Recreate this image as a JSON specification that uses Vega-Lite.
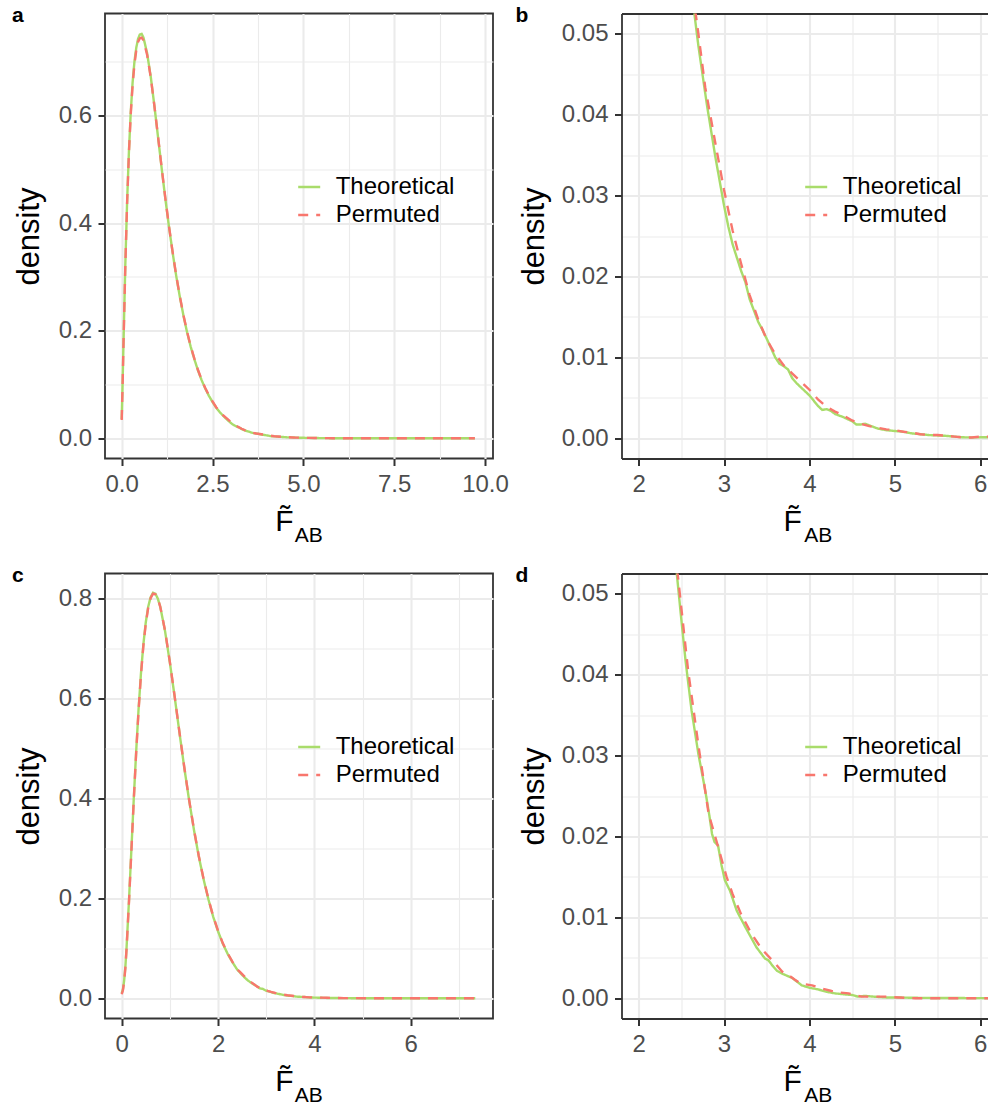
{
"$schema": "https://vega.github.io/schema/vega-lite/v6.json",
"background": "white",
"padding": {"left": 11, "top": 3.5, "right": 0, "bottom": 0},
"datasets": {
"top": [
{"F":0,"density":0.036,"series":"Theoretical"},{"F":0.025,"density":0.105,"series":"Theoretical"},{"F":0.05,"density":0.18,"series":"Theoretical"},{"F":0.1,"density":0.325,"series":"Theoretical"},{"F":0.15,"density":0.443,"series":"Theoretical"},{"F":0.2,"density":0.536,"series":"Theoretical"},{"F":0.25,"density":0.608,"series":"Theoretical"},{"F":0.3,"density":0.662,"series":"Theoretical"},{"F":0.35,"density":0.7,"series":"Theoretical"},{"F":0.4,"density":0.726,"series":"Theoretical"},{"F":0.45,"density":0.743,"series":"Theoretical"},{"F":0.5,"density":0.751,"series":"Theoretical"},{"F":0.55,"density":0.752,"series":"Theoretical"},{"F":0.6,"density":0.745,"series":"Theoretical"},{"F":0.7,"density":0.716,"series":"Theoretical"},{"F":0.8,"density":0.672,"series":"Theoretical"},{"F":0.9,"density":0.618,"series":"Theoretical"},{"F":1.0,"density":0.56,"series":"Theoretical"},{"F":1.1,"density":0.502,"series":"Theoretical"},{"F":1.2,"density":0.446,"series":"Theoretical"},{"F":1.3,"density":0.394,"series":"Theoretical"},{"F":1.4,"density":0.346,"series":"Theoretical"},{"F":1.5,"density":0.302,"series":"Theoretical"},{"F":1.6,"density":0.263,"series":"Theoretical"},{"F":1.7,"density":0.228,"series":"Theoretical"},{"F":1.8,"density":0.197,"series":"Theoretical"},{"F":1.9,"density":0.17,"series":"Theoretical"},{"F":2.0,"density":0.147,"series":"Theoretical"},{"F":2.1,"density":0.126,"series":"Theoretical"},{"F":2.2,"density":0.108,"series":"Theoretical"},{"F":2.3,"density":0.0925,"series":"Theoretical"},{"F":2.4,"density":0.079,"series":"Theoretical"},{"F":2.5,"density":0.0674,"series":"Theoretical"},{"F":2.6,"density":0.057,"series":"Theoretical"},{"F":2.7,"density":0.0485,"series":"Theoretical"},{"F":2.8,"density":0.0412,"series":"Theoretical"},{"F":2.9,"density":0.0347,"series":"Theoretical"},{"F":3.0,"density":0.0288,"series":"Theoretical"},{"F":3.05,"density":0.0262,"series":"Theoretical"},{"F":3.1,"density":0.024,"series":"Theoretical"},{"F":3.2,"density":0.0207,"series":"Theoretical"},{"F":3.25,"density":0.0193,"series":"Theoretical"},{"F":3.3,"density":0.0172,"series":"Theoretical"},{"F":3.4,"density":0.0144,"series":"Theoretical"},{"F":3.45,"density":0.0134,"series":"Theoretical"},{"F":3.5,"density":0.0123,"series":"Theoretical"},{"F":3.6,"density":0.01,"series":"Theoretical"},{"F":3.65,"density":0.0092,"series":"Theoretical"},{"F":3.7,"density":0.0089,"series":"Theoretical"},{"F":3.75,"density":0.0085,"series":"Theoretical"},{"F":3.8,"density":0.0074,"series":"Theoretical"},{"F":3.85,"density":0.0068,"series":"Theoretical"},{"F":3.9,"density":0.0063,"series":"Theoretical"},{"F":4.0,"density":0.0053,"series":"Theoretical"},{"F":4.1,"density":0.004,"series":"Theoretical"},{"F":4.15,"density":0.0035,"series":"Theoretical"},{"F":4.2,"density":0.0036,"series":"Theoretical"},{"F":4.25,"density":0.0034,"series":"Theoretical"},{"F":4.3,"density":0.003,"series":"Theoretical"},{"F":4.4,"density":0.0026,"series":"Theoretical"},{"F":4.5,"density":0.0021,"series":"Theoretical"},{"F":4.55,"density":0.0017,"series":"Theoretical"},{"F":4.6,"density":0.0017,"series":"Theoretical"},{"F":4.65,"density":0.0018,"series":"Theoretical"},{"F":4.7,"density":0.0016,"series":"Theoretical"},{"F":4.8,"density":0.0012,"series":"Theoretical"},{"F":4.9,"density":0.001,"series":"Theoretical"},{"F":5.0,"density":0.0009,"series":"Theoretical"},{"F":5.1,"density":0.0008,"series":"Theoretical"},{"F":5.2,"density":0.0006,"series":"Theoretical"},{"F":5.3,"density":0.0005,"series":"Theoretical"},{"F":5.4,"density":0.0004,"series":"Theoretical"},{"F":5.5,"density":0.00035,"series":"Theoretical"},{"F":5.6,"density":0.0003,"series":"Theoretical"},{"F":5.7,"density":0.0002,"series":"Theoretical"},{"F":5.8,"density":0.00012,"series":"Theoretical"},{"F":5.9,"density":0.0001,"series":"Theoretical"},{"F":6.0,"density":0.00012,"series":"Theoretical"},{"F":6.1,"density":0.00012,"series":"Theoretical"},{"F":6.2,"density":0.0001,"series":"Theoretical"},{"F":6.6,"density":0.00006,"series":"Theoretical"},{"F":7.0,"density":0.00003,"series":"Theoretical"},{"F":7.5,"density":0.00002,"series":"Theoretical"},{"F":8.0,"density":0.00001,"series":"Theoretical"},{"F":8.5,"density":0.00001,"series":"Theoretical"},{"F":9.0,"density":0,"series":"Theoretical"},{"F":9.72,"density":0,"series":"Theoretical"},
{"F":0,"density":0.034,"series":"Permuted"},{"F":0.025,"density":0.1,"series":"Permuted"},{"F":0.05,"density":0.178,"series":"Permuted"},{"F":0.1,"density":0.322,"series":"Permuted"},{"F":0.15,"density":0.44,"series":"Permuted"},{"F":0.2,"density":0.533,"series":"Permuted"},{"F":0.25,"density":0.604,"series":"Permuted"},{"F":0.3,"density":0.657,"series":"Permuted"},{"F":0.35,"density":0.695,"series":"Permuted"},{"F":0.4,"density":0.721,"series":"Permuted"},{"F":0.45,"density":0.737,"series":"Permuted"},{"F":0.5,"density":0.744,"series":"Permuted"},{"F":0.55,"density":0.745,"series":"Permuted"},{"F":0.6,"density":0.74,"series":"Permuted"},{"F":0.7,"density":0.713,"series":"Permuted"},{"F":0.8,"density":0.671,"series":"Permuted"},{"F":0.9,"density":0.618,"series":"Permuted"},{"F":1.0,"density":0.561,"series":"Permuted"},{"F":1.1,"density":0.503,"series":"Permuted"},{"F":1.2,"density":0.447,"series":"Permuted"},{"F":1.3,"density":0.395,"series":"Permuted"},{"F":1.4,"density":0.347,"series":"Permuted"},{"F":1.5,"density":0.303,"series":"Permuted"},{"F":1.6,"density":0.264,"series":"Permuted"},{"F":1.7,"density":0.229,"series":"Permuted"},{"F":1.8,"density":0.198,"series":"Permuted"},{"F":1.9,"density":0.171,"series":"Permuted"},{"F":2.0,"density":0.148,"series":"Permuted"},{"F":2.1,"density":0.127,"series":"Permuted"},{"F":2.2,"density":0.109,"series":"Permuted"},{"F":2.3,"density":0.0935,"series":"Permuted"},{"F":2.4,"density":0.08,"series":"Permuted"},{"F":2.5,"density":0.0685,"series":"Permuted"},{"F":2.6,"density":0.0578,"series":"Permuted"},{"F":2.7,"density":0.05,"series":"Permuted"},{"F":2.78,"density":0.0434,"series":"Permuted"},{"F":2.9,"density":0.0364,"series":"Permuted"},{"F":3.0,"density":0.0307,"series":"Permuted"},{"F":3.1,"density":0.0257,"series":"Permuted"},{"F":3.2,"density":0.0216,"series":"Permuted"},{"F":3.3,"density":0.0177,"series":"Permuted"},{"F":3.4,"density":0.0147,"series":"Permuted"},{"F":3.5,"density":0.0122,"series":"Permuted"},{"F":3.6,"density":0.0104,"series":"Permuted"},{"F":3.7,"density":0.009,"series":"Permuted"},{"F":3.8,"density":0.008,"series":"Permuted"},{"F":3.9,"density":0.007,"series":"Permuted"},{"F":4.0,"density":0.006,"series":"Permuted"},{"F":4.1,"density":0.0048,"series":"Permuted"},{"F":4.2,"density":0.0039,"series":"Permuted"},{"F":4.3,"density":0.0033,"series":"Permuted"},{"F":4.4,"density":0.0028,"series":"Permuted"},{"F":4.5,"density":0.0022,"series":"Permuted"},{"F":4.6,"density":0.0018,"series":"Permuted"},{"F":4.7,"density":0.0015,"series":"Permuted"},{"F":4.8,"density":0.0013,"series":"Permuted"},{"F":4.9,"density":0.0011,"series":"Permuted"},{"F":5.0,"density":0.001,"series":"Permuted"},{"F":5.1,"density":0.0008,"series":"Permuted"},{"F":5.2,"density":0.0007,"series":"Permuted"},{"F":5.3,"density":0.0005,"series":"Permuted"},{"F":5.4,"density":0.0004,"series":"Permuted"},{"F":5.5,"density":0.0004,"series":"Permuted"},{"F":5.6,"density":0.0003,"series":"Permuted"},{"F":5.7,"density":0.0002,"series":"Permuted"},{"F":5.8,"density":0.0001,"series":"Permuted"},{"F":5.9,"density":0.0001,"series":"Permuted"},{"F":6.0,"density":0.0002,"series":"Permuted"},{"F":6.1,"density":0.0002,"series":"Permuted"},{"F":6.2,"density":0.00015,"series":"Permuted"},{"F":6.6,"density":0.00006,"series":"Permuted"},{"F":7.0,"density":0.00003,"series":"Permuted"},{"F":7.5,"density":0.00002,"series":"Permuted"},{"F":8.0,"density":0.00001,"series":"Permuted"},{"F":8.5,"density":0.00001,"series":"Permuted"},{"F":9.0,"density":0,"series":"Permuted"},{"F":9.72,"density":0,"series":"Permuted"}
],
"bottom": [
{"F":0,"density":0.01,"series":"Theoretical"},{"F":0.025,"density":0.018,"series":"Theoretical"},{"F":0.05,"density":0.035,"series":"Theoretical"},{"F":0.075,"density":0.062,"series":"Theoretical"},{"F":0.1,"density":0.1,"series":"Theoretical"},{"F":0.15,"density":0.194,"series":"Theoretical"},{"F":0.2,"density":0.296,"series":"Theoretical"},{"F":0.25,"density":0.399,"series":"Theoretical"},{"F":0.3,"density":0.494,"series":"Theoretical"},{"F":0.35,"density":0.579,"series":"Theoretical"},{"F":0.4,"density":0.651,"series":"Theoretical"},{"F":0.45,"density":0.709,"series":"Theoretical"},{"F":0.5,"density":0.753,"series":"Theoretical"},{"F":0.55,"density":0.784,"series":"Theoretical"},{"F":0.6,"density":0.803,"series":"Theoretical"},{"F":0.65,"density":0.812,"series":"Theoretical"},{"F":0.7,"density":0.81,"series":"Theoretical"},{"F":0.75,"density":0.8,"series":"Theoretical"},{"F":0.8,"density":0.784,"series":"Theoretical"},{"F":0.9,"density":0.735,"series":"Theoretical"},{"F":1.0,"density":0.672,"series":"Theoretical"},{"F":1.1,"density":0.603,"series":"Theoretical"},{"F":1.2,"density":0.531,"series":"Theoretical"},{"F":1.3,"density":0.461,"series":"Theoretical"},{"F":1.4,"density":0.396,"series":"Theoretical"},{"F":1.5,"density":0.337,"series":"Theoretical"},{"F":1.6,"density":0.284,"series":"Theoretical"},{"F":1.7,"density":0.238,"series":"Theoretical"},{"F":1.8,"density":0.198,"series":"Theoretical"},{"F":1.9,"density":0.163,"series":"Theoretical"},{"F":2.0,"density":0.134,"series":"Theoretical"},{"F":2.1,"density":0.109,"series":"Theoretical"},{"F":2.2,"density":0.0889,"series":"Theoretical"},{"F":2.3,"density":0.072,"series":"Theoretical"},{"F":2.4,"density":0.057,"series":"Theoretical"},{"F":2.45,"density":0.0522,"series":"Theoretical"},{"F":2.49,"density":0.0479,"series":"Theoretical"},{"F":2.55,"density":0.0417,"series":"Theoretical"},{"F":2.62,"density":0.0356,"series":"Theoretical"},{"F":2.7,"density":0.0302,"series":"Theoretical"},{"F":2.78,"density":0.0257,"series":"Theoretical"},{"F":2.83,"density":0.0225,"series":"Theoretical"},{"F":2.86,"density":0.0203,"series":"Theoretical"},{"F":2.89,"density":0.0193,"series":"Theoretical"},{"F":2.93,"density":0.0189,"series":"Theoretical"},{"F":2.97,"density":0.0165,"series":"Theoretical"},{"F":3.01,"density":0.0146,"series":"Theoretical"},{"F":3.07,"density":0.0133,"series":"Theoretical"},{"F":3.15,"density":0.0108,"series":"Theoretical"},{"F":3.25,"density":0.0088,"series":"Theoretical"},{"F":3.38,"density":0.0063,"series":"Theoretical"},{"F":3.48,"density":0.0049,"series":"Theoretical"},{"F":3.52,"density":0.0047,"series":"Theoretical"},{"F":3.57,"density":0.004,"series":"Theoretical"},{"F":3.62,"density":0.0034,"series":"Theoretical"},{"F":3.69,"density":0.003,"series":"Theoretical"},{"F":3.8,"density":0.0025,"series":"Theoretical"},{"F":3.91,"density":0.0016,"series":"Theoretical"},{"F":4.0,"density":0.0013,"series":"Theoretical"},{"F":4.1,"density":0.0011,"series":"Theoretical"},{"F":4.2,"density":0.0008,"series":"Theoretical"},{"F":4.3,"density":0.0006,"series":"Theoretical"},{"F":4.4,"density":0.0005,"series":"Theoretical"},{"F":4.5,"density":0.0004,"series":"Theoretical"},{"F":4.57,"density":0.0002,"series":"Theoretical"},{"F":4.65,"density":0.0003,"series":"Theoretical"},{"F":4.75,"density":0.0002,"series":"Theoretical"},{"F":4.9,"density":0.0001,"series":"Theoretical"},{"F":5.0,"density":0.0001,"series":"Theoretical"},{"F":5.3,"density":0.00005,"series":"Theoretical"},{"F":5.6,"density":0.00003,"series":"Theoretical"},{"F":6.0,"density":0.00002,"series":"Theoretical"},{"F":6.2,"density":0.00001,"series":"Theoretical"},{"F":6.6,"density":0,"series":"Theoretical"},{"F":7.0,"density":0,"series":"Theoretical"},{"F":7.34,"density":0,"series":"Theoretical"},
{"F":0,"density":0.008,"series":"Permuted"},{"F":0.025,"density":0.016,"series":"Permuted"},{"F":0.05,"density":0.033,"series":"Permuted"},{"F":0.075,"density":0.06,"series":"Permuted"},{"F":0.1,"density":0.098,"series":"Permuted"},{"F":0.15,"density":0.191,"series":"Permuted"},{"F":0.2,"density":0.293,"series":"Permuted"},{"F":0.25,"density":0.396,"series":"Permuted"},{"F":0.3,"density":0.491,"series":"Permuted"},{"F":0.35,"density":0.576,"series":"Permuted"},{"F":0.4,"density":0.648,"series":"Permuted"},{"F":0.45,"density":0.706,"series":"Permuted"},{"F":0.5,"density":0.75,"series":"Permuted"},{"F":0.55,"density":0.782,"series":"Permuted"},{"F":0.6,"density":0.801,"series":"Permuted"},{"F":0.65,"density":0.81,"series":"Permuted"},{"F":0.7,"density":0.809,"series":"Permuted"},{"F":0.75,"density":0.8,"series":"Permuted"},{"F":0.8,"density":0.784,"series":"Permuted"},{"F":0.9,"density":0.736,"series":"Permuted"},{"F":1.0,"density":0.673,"series":"Permuted"},{"F":1.1,"density":0.604,"series":"Permuted"},{"F":1.2,"density":0.532,"series":"Permuted"},{"F":1.3,"density":0.462,"series":"Permuted"},{"F":1.4,"density":0.397,"series":"Permuted"},{"F":1.5,"density":0.338,"series":"Permuted"},{"F":1.6,"density":0.285,"series":"Permuted"},{"F":1.7,"density":0.239,"series":"Permuted"},{"F":1.8,"density":0.199,"series":"Permuted"},{"F":1.9,"density":0.164,"series":"Permuted"},{"F":2.0,"density":0.135,"series":"Permuted"},{"F":2.1,"density":0.11,"series":"Permuted"},{"F":2.2,"density":0.0898,"series":"Permuted"},{"F":2.3,"density":0.0728,"series":"Permuted"},{"F":2.4,"density":0.058,"series":"Permuted"},{"F":2.465,"density":0.0517,"series":"Permuted"},{"F":2.58,"density":0.0405,"series":"Permuted"},{"F":2.7,"density":0.0313,"series":"Permuted"},{"F":2.82,"density":0.0228,"series":"Permuted"},{"F":2.91,"density":0.0195,"series":"Permuted"},{"F":3.03,"density":0.015,"series":"Permuted"},{"F":3.1,"density":0.0129,"series":"Permuted"},{"F":3.2,"density":0.0104,"series":"Permuted"},{"F":3.32,"density":0.008,"series":"Permuted"},{"F":3.44,"density":0.0061,"series":"Permuted"},{"F":3.6,"density":0.0043,"series":"Permuted"},{"F":3.68,"density":0.0033,"series":"Permuted"},{"F":3.79,"density":0.0026,"series":"Permuted"},{"F":3.83,"density":0.0023,"series":"Permuted"},{"F":3.9,"density":0.0018,"series":"Permuted"},{"F":4.03,"density":0.0016,"series":"Permuted"},{"F":4.15,"density":0.0012,"series":"Permuted"},{"F":4.26,"density":0.0009,"series":"Permuted"},{"F":4.36,"density":0.0007,"series":"Permuted"},{"F":4.46,"density":0.0006,"series":"Permuted"},{"F":4.53,"density":0.0004,"series":"Permuted"},{"F":4.61,"density":0.0002,"series":"Permuted"},{"F":4.75,"density":0.0002,"series":"Permuted"},{"F":4.89,"density":0.0002,"series":"Permuted"},{"F":5.05,"density":0.0001,"series":"Permuted"},{"F":5.24,"density":0,"series":"Permuted"},{"F":5.6,"density":0,"series":"Permuted"},{"F":6.2,"density":0,"series":"Permuted"},{"F":7.34,"density":0,"series":"Permuted"}
]
},
"columns": 2,
"spacing": {"row": 115, "column": 128.5},
"bounds": "flush",
"resolve": {"scale": {"color": "independent", "strokeDash": "independent"}, "legend": {"color": "independent", "strokeDash": "independent"}},
"concat": [
{
"title": {"text": "a", "anchor": "start", "frame": "group", "dx": -93, "dy": 29, "offset": 0, "baseline": "alphabetic"},
"width": 388, "height": 445,
"data": {"name": "top"},
"encoding": {
"y": {"field": "density", "type": "quantitative", "scale": {"domain": [-0.0376, 0.79], "nice": false, "zero": false},
"axis": {"values": [0, 0.1, 0.2, 0.3, 0.4, 0.5, 0.6, 0.7], "labelExpr": "round(datum.value*10) % 2 == 0 ? format(datum.value, '.1f') : ''",
"gridWidth": {"condition": {"test": "round(datum.value*10) % 2 == 0", "value": 2.1}, "value": 1.1},
"tickOpacity": {"condition": {"test": "round(datum.value*10) % 2 == 0", "value": 1}, "value": 0},
"domain": false, "labelPadding": 6.5, "title": "density", "titleFontSize": 31, "titleX": -66.7, "titleY": 222.5, "titleAngle": -90, "titleAlign": "center", "titleBaseline": "alphabetic"}},
"color": {"field": "series", "type": "nominal", "scale": {"domain": ["Theoretical", "Permuted"], "range": ["#A9DC6B", "#F8766D"]}, "legend": {"title": null, "legendX": 191.7, "legendY": 161}},
"strokeDash": {"field": "series", "type": "nominal", "scale": {"domain": ["Theoretical", "Permuted"], "range": [[1, 0], [10, 8]]}, "legend": {"title": null, "legendX": 191.7, "legendY": 161}}
},
"layer": [
{"transform": [{"filter": "datum.series === 'Theoretical'"}], "mark": {"type": "line", "clip": true, "strokeWidth": 2.4},
"encoding": {"x": {"field": "F", "type": "quantitative", "scale": {"domain": [-0.46, 10.22], "nice": false, "zero": false},
"axis": {"orient": "bottom", "values": [0, 1.25, 2.5, 3.75, 5, 6.25, 7.5, 8.75, 10], "labelExpr": "datum.value % 2.5 == 0 ? format(datum.value, '.1f') : ''",
"gridWidth": {"condition": {"test": "datum.value % 2.5 == 0", "value": 2.1}, "value": 1.1},
"tickOpacity": {"condition": {"test": "datum.value % 2.5 == 0", "value": 1}, "value": 0},
"domain": false, "labelBaseline": "alphabetic", "labelPadding": 26, "title": "F\u0303", "titleX": 169.7, "titleY": 72, "titleAlign": "left", "titleBaseline": "alphabetic"}}}},
{"transform": [{"filter": "datum.series === 'Permuted'"}], "mark": {"type": "line", "clip": true, "strokeWidth": 2.4},
"encoding": {"x": {"field": "F", "type": "quantitative", "scale": {"domain": [-0.46, 10.22], "nice": false, "zero": false},
"axis": {"orient": "top", "labels": false, "ticks": false, "grid": false, "domain": false, "title": "AB", "titleFontSize": 21, "titleX": 189.3, "titleY": 528, "titleAlign": "left", "titleBaseline": "alphabetic"}}}}
],
"resolve": {"axis": {"x": "independent"}}
},
{
"title": {"text": "b", "anchor": "start", "frame": "group", "dx": -106, "dy": 29, "offset": 0, "baseline": "alphabetic"},
"width": 367, "height": 445,
"view": {"stroke": null},
"data": {"name": "top"},
"encoding": {
"y": {"field": "density", "type": "quantitative", "scale": {"domain": [-0.0025, 0.0525], "nice": false, "zero": false},
"axis": {"values": [0, 0.005, 0.01, 0.015, 0.02, 0.025, 0.03, 0.035, 0.04, 0.045, 0.05], "labelExpr": "round(datum.value*1000) % 10 == 0 ? format(datum.value, '.2f') : ''",
"gridWidth": {"condition": {"test": "round(datum.value*1000) % 10 == 0", "value": 2.1}, "value": 1.1},
"tickOpacity": {"condition": {"test": "round(datum.value*1000) % 10 == 0", "value": 1}, "value": 0},
"domain": true, "labelPadding": 6.5, "title": "density", "titleFontSize": 31, "titleX": -78.2, "titleY": 222.5, "titleAngle": -90, "titleAlign": "center", "titleBaseline": "alphabetic"}},
"color": {"field": "series", "type": "nominal", "scale": {"domain": ["Theoretical", "Permuted"], "range": ["#A9DC6B", "#F8766D"]}, "legend": {"title": null, "legendX": 182.2, "legendY": 161}},
"strokeDash": {"field": "series", "type": "nominal", "scale": {"domain": ["Theoretical", "Permuted"], "range": [[1, 0], [10, 8]]}, "legend": {"title": null, "legendX": 182.2, "legendY": 161}}
},
"layer": [
{"transform": [{"filter": "datum.series === 'Theoretical'"}], "mark": {"type": "line", "clip": true, "strokeWidth": 2.4},
"encoding": {"x": {"field": "F", "type": "quantitative", "scale": {"domain": [1.8, 6.0964], "nice": false, "zero": false},
"axis": {"orient": "bottom", "values": [2, 2.5, 3, 3.5, 4, 4.5, 5, 5.5, 6], "labelExpr": "datum.value % 1 == 0 ? format(datum.value, 'd') : ''",
"gridWidth": {"condition": {"test": "datum.value % 1 == 0", "value": 2.1}, "value": 1.1},
"tickOpacity": {"condition": {"test": "datum.value % 1 == 0", "value": 1}, "value": 0},
"domain": true, "labelBaseline": "alphabetic", "labelPadding": 26, "title": "F\u0303", "titleX": 161.5, "titleY": 72, "titleAlign": "left", "titleBaseline": "alphabetic"}}}},
{"transform": [{"filter": "datum.series === 'Permuted'"}], "mark": {"type": "line", "clip": true, "strokeWidth": 2.4},
"encoding": {"x": {"field": "F", "type": "quantitative", "scale": {"domain": [1.8, 6.0964], "nice": false, "zero": false},
"axis": {"orient": "top", "labels": false, "ticks": false, "grid": false, "domain": true, "title": "AB", "titleFontSize": 21, "titleX": 182.2, "titleY": 528, "titleAlign": "left", "titleBaseline": "alphabetic"}}}}
],
"resolve": {"axis": {"x": "independent"}}
},
{
"title": {"text": "c", "anchor": "start", "frame": "group", "dx": -93, "dy": 29, "offset": 0, "baseline": "alphabetic"},
"width": 388, "height": 445,
"data": {"name": "bottom"},
"encoding": {
"y": {"field": "density", "type": "quantitative", "scale": {"domain": [-0.0405, 0.8505], "nice": false, "zero": false},
"axis": {"values": [0, 0.1, 0.2, 0.3, 0.4, 0.5, 0.6, 0.7, 0.8], "labelExpr": "round(datum.value*10) % 2 == 0 ? format(datum.value, '.1f') : ''",
"gridWidth": {"condition": {"test": "round(datum.value*10) % 2 == 0", "value": 2.1}, "value": 1.1},
"tickOpacity": {"condition": {"test": "round(datum.value*10) % 2 == 0", "value": 1}, "value": 0},
"domain": false, "labelPadding": 6.5, "title": "density", "titleFontSize": 31, "titleX": -66.7, "titleY": 222.5, "titleAngle": -90, "titleAlign": "center", "titleBaseline": "alphabetic"}},
"color": {"field": "series", "type": "nominal", "scale": {"domain": ["Theoretical", "Permuted"], "range": ["#A9DC6B", "#F8766D"]}, "legend": {"title": null, "legendX": 191.7, "legendY": 161}},
"strokeDash": {"field": "series", "type": "nominal", "scale": {"domain": ["Theoretical", "Permuted"], "range": [[1, 0], [10, 8]]}, "legend": {"title": null, "legendX": 191.7, "legendY": 161}}
},
"layer": [
{"transform": [{"filter": "datum.series === 'Theoretical'"}], "mark": {"type": "line", "clip": true, "strokeWidth": 2.4},
"encoding": {"x": {"field": "F", "type": "quantitative", "scale": {"domain": [-0.347, 7.708], "nice": false, "zero": false},
"axis": {"orient": "bottom", "values": [0, 1, 2, 3, 4, 5, 6, 7], "labelExpr": "datum.value % 2 == 0 ? format(datum.value, 'd') : ''",
"gridWidth": {"condition": {"test": "datum.value % 2 == 0", "value": 2.1}, "value": 1.1},
"tickOpacity": {"condition": {"test": "datum.value % 2 == 0", "value": 1}, "value": 0},
"domain": false, "labelBaseline": "alphabetic", "labelPadding": 26, "title": "F\u0303", "titleX": 169.7, "titleY": 72, "titleAlign": "left", "titleBaseline": "alphabetic"}}}},
{"transform": [{"filter": "datum.series === 'Permuted'"}], "mark": {"type": "line", "clip": true, "strokeWidth": 2.4},
"encoding": {"x": {"field": "F", "type": "quantitative", "scale": {"domain": [-0.347, 7.708], "nice": false, "zero": false},
"axis": {"orient": "top", "labels": false, "ticks": false, "grid": false, "domain": false, "title": "AB", "titleFontSize": 21, "titleX": 189.3, "titleY": 528, "titleAlign": "left", "titleBaseline": "alphabetic"}}}}
],
"resolve": {"axis": {"x": "independent"}}
},
{
"title": {"text": "d", "anchor": "start", "frame": "group", "dx": -106, "dy": 29, "offset": 0, "baseline": "alphabetic"},
"width": 367, "height": 445,
"view": {"stroke": null},
"data": {"name": "bottom"},
"encoding": {
"y": {"field": "density", "type": "quantitative", "scale": {"domain": [-0.0025, 0.0525], "nice": false, "zero": false},
"axis": {"values": [0, 0.005, 0.01, 0.015, 0.02, 0.025, 0.03, 0.035, 0.04, 0.045, 0.05], "labelExpr": "round(datum.value*1000) % 10 == 0 ? format(datum.value, '.2f') : ''",
"gridWidth": {"condition": {"test": "round(datum.value*1000) % 10 == 0", "value": 2.1}, "value": 1.1},
"tickOpacity": {"condition": {"test": "round(datum.value*1000) % 10 == 0", "value": 1}, "value": 0},
"domain": true, "labelPadding": 6.5, "title": "density", "titleFontSize": 31, "titleX": -78.2, "titleY": 222.5, "titleAngle": -90, "titleAlign": "center", "titleBaseline": "alphabetic"}},
"color": {"field": "series", "type": "nominal", "scale": {"domain": ["Theoretical", "Permuted"], "range": ["#A9DC6B", "#F8766D"]}, "legend": {"title": null, "legendX": 182.2, "legendY": 161}},
"strokeDash": {"field": "series", "type": "nominal", "scale": {"domain": ["Theoretical", "Permuted"], "range": [[1, 0], [10, 8]]}, "legend": {"title": null, "legendX": 182.2, "legendY": 161}}
},
"layer": [
{"transform": [{"filter": "datum.series === 'Theoretical'"}], "mark": {"type": "line", "clip": true, "strokeWidth": 2.4},
"encoding": {"x": {"field": "F", "type": "quantitative", "scale": {"domain": [1.8, 6.0964], "nice": false, "zero": false},
"axis": {"orient": "bottom", "values": [2, 2.5, 3, 3.5, 4, 4.5, 5, 5.5, 6], "labelExpr": "datum.value % 1 == 0 ? format(datum.value, 'd') : ''",
"gridWidth": {"condition": {"test": "datum.value % 1 == 0", "value": 2.1}, "value": 1.1},
"tickOpacity": {"condition": {"test": "datum.value % 1 == 0", "value": 1}, "value": 0},
"domain": true, "labelBaseline": "alphabetic", "labelPadding": 26, "title": "F\u0303", "titleX": 161.5, "titleY": 72, "titleAlign": "left", "titleBaseline": "alphabetic"}}}},
{"transform": [{"filter": "datum.series === 'Permuted'"}], "mark": {"type": "line", "clip": true, "strokeWidth": 2.4},
"encoding": {"x": {"field": "F", "type": "quantitative", "scale": {"domain": [1.8, 6.0964], "nice": false, "zero": false},
"axis": {"orient": "top", "labels": false, "ticks": false, "grid": false, "domain": true, "title": "AB", "titleFontSize": 21, "titleX": 182.2, "titleY": 528, "titleAlign": "left", "titleBaseline": "alphabetic"}}}}
],
"resolve": {"axis": {"x": "independent"}}
}
],
"config": {
"view": {"stroke": "#333333", "strokeWidth": 1.8},
"title": {"font": "Liberation Sans", "fontSize": 21, "fontWeight": "bold", "color": "black"},
"axis": {"labelFont": "Liberation Sans", "labelFontSize": 24, "labelColor": "#4D4D4D", "titleFont": "Liberation Sans", "titleFontSize": 30, "titleFontWeight": "normal", "titleColor": "black", "tickColor": "#333333", "tickSize": 7, "tickWidth": 2, "gridColor": "#EBEBEB", "domainColor": "#333333", "domainWidth": 1.8, "labelOverlap": false, "labelFlush": false, "labelBound": false},
"legend": {"orient": "none", "labelFont": "Liberation Sans", "labelFontSize": 24, "labelColor": "black", "symbolType": "stroke", "symbolSize": 484, "symbolStrokeWidth": 2.4, "rowPadding": 3, "labelOffset": 14, "padding": 0}
}
}
